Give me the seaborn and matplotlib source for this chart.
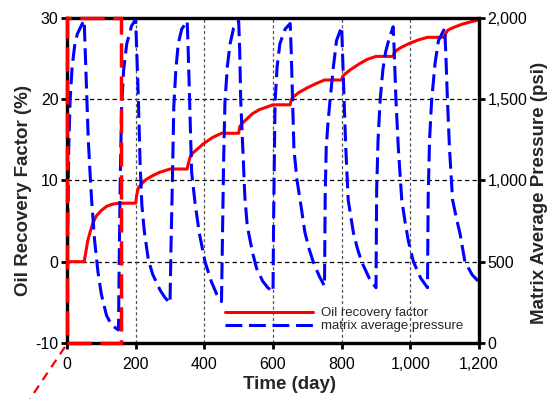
import matplotlib
matplotlib.use("Agg")
import matplotlib.pyplot as plt
import seaborn as sns
import numpy as np
import pandas as pd
from matplotlib.ticker import FuncFormatter, FixedLocator
from matplotlib.patches import Rectangle
from matplotlib.lines import Line2D

# ---- data ----
rec_time = [0, 50, 55, 60, 67, 75, 85, 100, 115, 130, 150,
            200, 203, 208, 220, 230, 250, 270, 300,
            350, 353, 358, 365, 378, 400, 425, 450,
            500, 503, 510, 520, 540, 560, 580, 600,
            650, 653, 660, 675, 700, 725, 750,
            800, 803, 810, 825, 850, 875, 900,
            950, 953, 960, 975, 1000, 1025, 1050,
            1100, 1103, 1110, 1125, 1150, 1175, 1200]
rec_value = [0, 0, 1.2, 2.5, 3.6, 4.7, 5.6, 6.3, 6.8, 7.05, 7.2,
             7.2, 8.2, 9.1, 9.7, 10.1, 10.6, 11.0, 11.4,
             11.4, 12.0, 12.8, 13.3, 13.8, 14.6, 15.3, 15.8,
             15.8, 16.6, 17.0, 17.4, 18.2, 18.7, 19.0, 19.3,
             19.3, 19.9, 20.3, 20.8, 21.4, 21.9, 22.35,
             22.35, 22.8, 23.1, 23.6, 24.3, 24.9, 25.25,
             25.25, 25.7, 26.0, 26.4, 26.9, 27.3, 27.6,
             27.6, 28.1, 28.5, 28.8, 29.2, 29.5, 29.75]

pres_time = [0, 2, 5, 9, 15, 23, 30, 38, 47, 50,
             53, 57, 62, 67, 72, 80, 90, 100, 115, 130, 150,
             152, 155, 159, 165, 174, 188, 200,
             203, 208, 213, 218, 225, 237, 250, 271, 285, 300,
             303, 307, 311, 317, 324, 334, 350,
             353, 357, 363, 373, 385, 402, 420, 436, 450,
             453, 456, 460, 467, 475, 485, 500,
             503, 506, 510, 514, 518, 525, 540, 552, 570, 585, 600,
             602, 606, 612, 620, 635, 650,
             653, 657, 661, 670, 679, 693, 705, 717, 735, 750,
             752, 755, 760, 766, 776, 785, 800,
             803, 807, 812, 819, 834, 846, 858, 880, 900,
             902, 906, 912, 920, 928, 938, 950,
             953, 958, 965, 975, 985, 994, 1009, 1030, 1050,
             1052, 1056, 1062, 1072, 1082, 1100,
             1103, 1108, 1114, 1123, 1135, 1145, 1159, 1180, 1200]
pres_value = [0, 700, 1200, 1490, 1700, 1840, 1900, 1935, 1975, 1985,
              1800, 1550, 1250, 1050, 870, 640, 440, 300, 170, 110, 80,
              500, 1000, 1450, 1680, 1840, 1950, 1990,
              1800, 1490, 1100, 850, 690, 510, 420, 326, 280, 245,
              600, 1000, 1450, 1680, 1840, 1930, 1980,
              1800, 1490, 1050, 860, 680, 500, 380, 300, 255,
              700, 1100, 1480, 1700, 1840, 1935, 1980,
              1800, 1490, 1300, 1100, 900, 720, 560, 460, 380, 340, 315,
              800, 1480, 1700, 1840, 1930, 1965,
              1800, 1490, 1190, 1000, 880, 680, 580, 500, 410, 350,
              900, 1200, 1350, 1490, 1700, 1860, 1945,
              1750, 1500, 1200, 880, 680, 580, 500, 400, 340,
              950, 1250, 1490, 1680, 1790, 1870, 1945,
              1800, 1500, 1200, 880, 740, 630, 500, 400, 340,
              900, 1250, 1490, 1720, 1860, 1935,
              1800, 1500, 1200, 880, 760, 670, 500, 420, 375]

x_ticks = [0, 200, 400, 600, 800, 1000, 1200]
left_ticks = [-10, 0, 10, 20, 30]
right_ticks = [0, 500, 1000, 1500, 2000]
x_label = "Time (day)"
left_label = "Oil Recovery Factor (%)"
right_label = "Matrix Average Pressure (psi)"
series_names = ["Oil recovery factor", "matrix average pressure"]

# highlight box (annotation) in data units: days, recovery %
box_t = [0, 157]
box_y = [-10, 30]

rec_df = pd.DataFrame({"t": rec_time, "v": rec_value})
pres_df = pd.DataFrame({"t": pres_time, "p": pres_value})

sns.set_theme(style="white")
plt.rcParams["font.family"] = ["Liberation Sans", "DejaVu Sans"]
plt.rcParams["axes.unicode_minus"] = False

fig = plt.figure(figsize=(5.54, 3.99), dpi=100)
ax = fig.add_axes([67/554, 1-343/399, 412/554, 325.2/399])
ax2 = ax.twinx()

sns.lineplot(data=rec_df, x="t", y="v", ax=ax, color="#FF0000", lw=2.2,
             estimator=None, sort=False, legend=False)
sns.lineplot(data=pres_df, x="t", y="p", ax=ax2, color="#0000FF", lw=2.2,
             linestyle=(0, (5.5, 2.2)), estimator=None, sort=False, legend=False)

ax.set_xlim(0, 1200)
ax.set_ylim(-10, 30)
ax2.set_ylim(0, 2000)

ax.xaxis.set_major_locator(FixedLocator(x_ticks))
ax.yaxis.set_major_locator(FixedLocator(left_ticks))
ax2.yaxis.set_major_locator(FixedLocator(right_ticks))
fmt = FuncFormatter(lambda v, p: f"{v:,.0f}")
ax.xaxis.set_major_formatter(fmt)
ax2.yaxis.set_major_formatter(fmt)
ax.yaxis.set_major_formatter(FuncFormatter(lambda v, p: f"{v:.0f}".replace("\u2212", "-")))

# grid
for yv in [0, 10, 20]:
    ax.axhline(yv, color="black", lw=0.9, linestyle=(0, (3.5, 2.5)), zorder=0.5)
for xv in [200, 400, 600, 800, 1000]:
    ax.axvline(xv, color="#555555", lw=0.9, linestyle=(0, (2.5, 2)), zorder=0.5)

for a in (ax, ax2):
    for s in a.spines.values():
        s.set_linewidth(2.3)
        s.set_color("black")

ax.tick_params(axis="both", which="major", direction="out", length=4, width=2,
               labelsize=11.5, colors="black", pad=2)
ax.tick_params(axis="y", left=True, right=False)
ax.tick_params(axis="x", bottom=True, top=False, pad=6)
ax2.tick_params(axis="y", right=True, direction="out", length=4, width=2,
                labelsize=11.5, colors="black", pad=2)

ax.set_xlabel(x_label, fontsize=13.5, fontweight="bold")
ax.set_ylabel(left_label, fontsize=13.5, fontweight="bold")
ax2.set_ylabel(right_label, fontsize=13.5, fontweight="bold")
ax.xaxis.set_label_coords(0.539, -0.103)
ax.yaxis.set_label_coords(-0.085, 0.47)
ax2.yaxis.set_label_coords(1.125, 0.46)

ax.set_zorder(1)
ax2.set_zorder(2)
ax2.patch.set_visible(False)

# highlight box + callout line (annotation)
callout = Line2D([-0.005, -0.09], [-0.012, -0.172], transform=ax.transAxes,
                 color="#FF0000", lw=1.6, linestyle=(0, (4, 3)), clip_on=False)
ax2.add_line(callout)
ax2.add_patch(Rectangle((box_t[0], box_y[0]), box_t[1]-box_t[0], box_y[1]-box_y[0],
                        transform=ax.transData, fill=False, edgecolor="#FF0000",
                        lw=2.5, linestyle=(0, (7, 2.5)), clip_on=False, zorder=10))

handles = [Line2D([], [], color="#FF0000", lw=2.2),
           Line2D([], [], color="#0000FF", lw=2.2, linestyle=(0, (5.5, 2.2)))]
leg = ax2.legend(handles, series_names, loc="center left",
                 bbox_to_anchor=(0.383, 0.072), frameon=False, fontsize=9.5,
                 handlelength=6.7, handletextpad=0.6, labelspacing=0.05,
                 borderpad=0, borderaxespad=0)
leg.set_zorder(5)

fig.savefig("out.png", dpi=100)
